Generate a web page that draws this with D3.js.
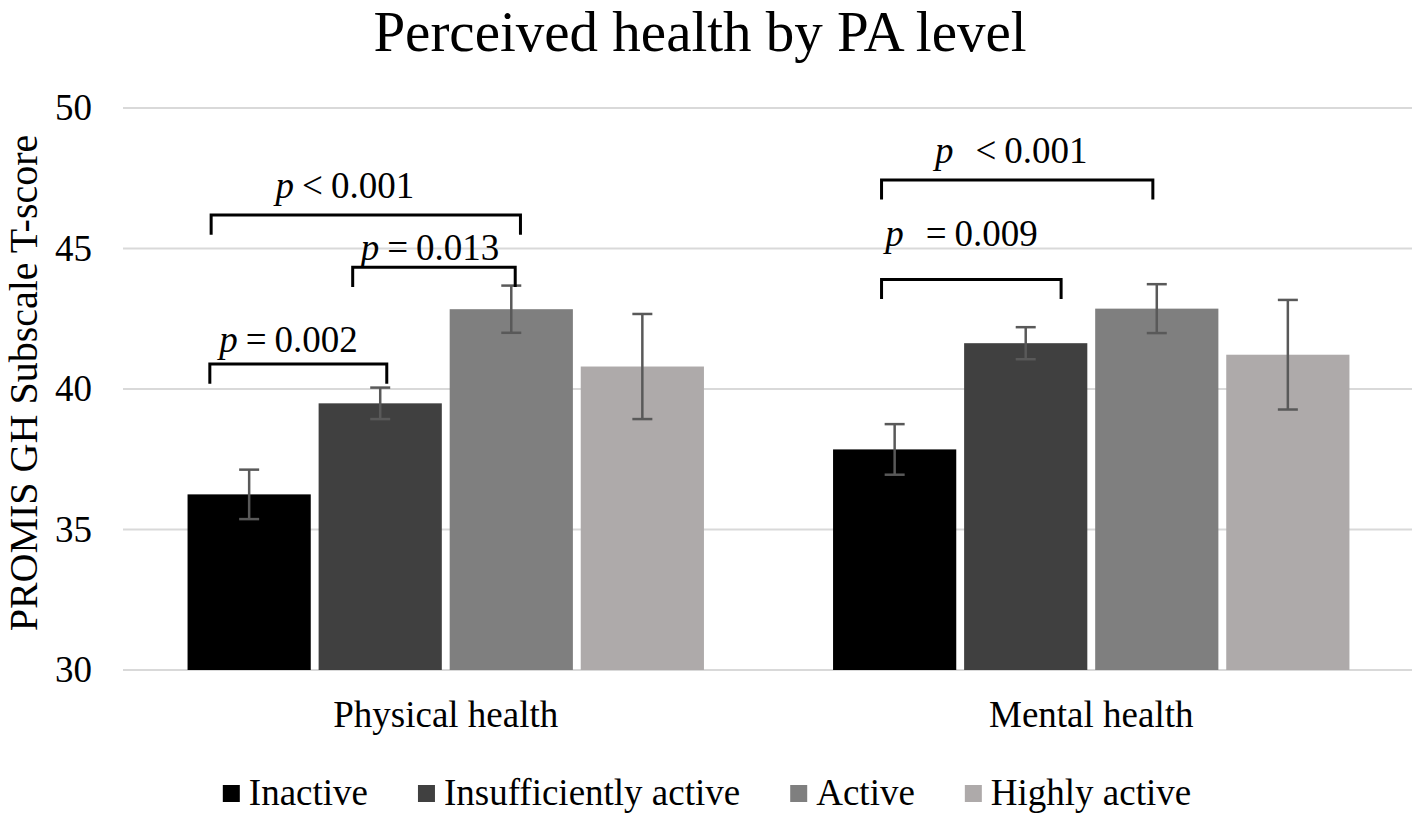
<!DOCTYPE html>
<html>
<head>
<meta charset="utf-8">
<script src="https://cdn.jsdelivr.net/npm/d3@7"></script>
<style>
  html, body { margin: 0; padding: 0; background: #fff; }
  svg { display: block; font-family: "Liberation Serif", "Times New Roman", serif; }
</style>
</head>
<body>
<svg id="chart"></svg>
<script>
// chart size
const width = 1417;
const height = 816;

// data
const categories = ["Physical health", "Mental health"];
const levels = ["Inactive", "Insufficiently active", "Active", "Highly active"];
const levelColors = ["#000000", "#404040", "#7f7f7f", "#aeaaaa"];
const physicalMeans = [36.25, 39.49, 42.84, 40.8];
const physicalErr = [0.88, 0.56, 0.84, 1.87];
const mentalMeans = [37.85, 41.63, 42.86, 41.22];
const mentalErr = [0.9, 0.57, 0.87, 1.95];
const yTicks = [30, 35, 40, 45, 50];

// significance brackets: group, from / to in bar slots, bar height (T-score)
const bracketGroup = [0, 0, 0, 1, 1];
const bracketFrom = [0.18, 1.26, 0.17, 0.37, 0.37];
const bracketTo = [2.54, 2.5, 1.52, 2.44, 1.74];
const bracketY = [46.19, 44.33, 40.89, 47.44, 43.9];
const bracketOp = ["<", "=", "=", "<", "="];
const bracketP = ["0.001", "0.013", "0.002", "0.001", "0.009"];
const labelSlot = [1.2, 1.85, 0.77, 1.36, 0.98];
const labelY = [46.8, 44.59, 41.33, 48.04, 45.09];

const means = [physicalMeans, mentalMeans];
const errs = [physicalErr, mentalErr];

const svg = d3.select("#chart").attr("width", width).attr("height", height);

// scales
const x0 = d3.scaleBand().domain(categories).range([123, 1414])
  .paddingInner(0.2).paddingOuter(0.1);
const x1 = d3.scaleBand().domain(levels).range([0, x0.bandwidth()])
  .paddingInner(0.06);
const slot = d3.scaleLinear().domain([0, levels.length])
  .range([0, x1.step() * levels.length]);
const y = d3.scaleLinear().domain([30, 50]).range([670, 108]);

// title
svg.append("text")
  .attr("x", 700).attr("y", 51)
  .attr("text-anchor", "middle")
  .style("font-size", "57px")
  .text("Perceived health by PA level");

// gridlines
svg.append("g")
  .selectAll("line")
  .data(yTicks)
  .join("line")
  .attr("x1", 123).attr("x2", 1412)
  .attr("y1", (d) => y(d)).attr("y2", (d) => y(d))
  .attr("stroke", "#d9d9d9")
  .attr("stroke-width", 2);

// y axis (labels only)
const yAxis = svg.append("g")
  .attr("transform", "translate(92,0)")
  .call(d3.axisLeft(y).tickValues(yTicks).tickSize(0).tickPadding(0));
yAxis.select(".domain").remove();
yAxis.selectAll("text")
  .style("font-family", "Liberation Serif, serif")
  .style("font-size", "37px")
  .attr("fill", "#000");

svg.append("text")
  .attr("transform", "translate(37,383) rotate(-90)")
  .attr("text-anchor", "middle")
  .style("font-size", "40px")
  .text("PROMIS GH Subscale T-score");

// bars
const groups = svg.append("g")
  .selectAll("g")
  .data(categories)
  .join("g")
  .attr("transform", (d) => `translate(${x0(d)},0)`);

groups.selectAll("rect")
  .data((d, i) => levels.map((l, j) => ({ level: l, value: means[i][j], err: errs[i][j], c: levelColors[j] })))
  .join("rect")
  .attr("x", (d) => x1(d.level))
  .attr("width", x1.bandwidth())
  .attr("y", (d) => y(d.value))
  .attr("height", (d) => y(30) - y(d.value))
  .attr("fill", (d) => d.c);

// error bars
const errG = groups.selectAll("g.err")
  .data((d, i) => levels.map((l, j) => ({ level: l, value: means[i][j], err: errs[i][j] })))
  .join("g")
  .attr("class", "err")
  .attr("stroke", "#595959")
  .attr("stroke-width", 2.5);
errG.append("line")
  .attr("x1", (d) => x1(d.level) + x1.bandwidth() / 2)
  .attr("x2", (d) => x1(d.level) + x1.bandwidth() / 2)
  .attr("y1", (d) => y(d.value + d.err))
  .attr("y2", (d) => y(d.value - d.err));
errG.selectAll("line.cap")
  .data((d) => [d.value + d.err, d.value - d.err].map((v) => ({ v: v, level: d.level })))
  .join("line")
  .attr("class", "cap")
  .attr("x1", (d) => x1(d.level) + x1.bandwidth() / 2 - 10)
  .attr("x2", (d) => x1(d.level) + x1.bandwidth() / 2 + 10)
  .attr("y1", (d) => y(d.v))
  .attr("y2", (d) => y(d.v));

// category labels
svg.append("g")
  .selectAll("text")
  .data(categories)
  .join("text")
  .attr("x", (d) => x0(d) + x0.bandwidth() / 2)
  .attr("y", 727)
  .attr("text-anchor", "middle")
  .style("font-size", "37px")
  .text((d) => d);

// significance brackets
const tickLen = 0.7;
const br = svg.append("g")
  .selectAll("g")
  .data(bracketY.map((v, i) => i))
  .join("g");
br.append("path")
  .attr("fill", "none")
  .attr("stroke", "#000")
  .attr("stroke-width", 3)
  .attr("d", (i) => {
    const gx = x0(categories[bracketGroup[i]]);
    const a = gx + slot(bracketFrom[i]);
    const b = gx + slot(bracketTo[i]);
    return `M${a},${y(bracketY[i] - tickLen)}V${y(bracketY[i])}H${b}V${y(bracketY[i] - tickLen)}`;
  });
const lbl = br.append("text")
  .attr("x", (i) => x0(categories[bracketGroup[i]]) + slot(labelSlot[i]))
  .attr("y", (i) => y(labelY[i]))
  .attr("text-anchor", "middle")
  .style("font-size", "37px");
lbl.append("tspan")
  .style("font-style", "italic")
  .text("p");
lbl.append("tspan")
  .attr("dx", (i) => (bracketGroup[i] === 1 ? 22 : 8))
  .text((i) => bracketOp[i]);
lbl.append("tspan")
  .attr("dx", 8)
  .text((i) => bracketP[i]);

// legend
const legend = svg.append("g");
const items = legend.selectAll("g")
  .data(levels)
  .join("g");
items.append("rect")
  .attr("width", 17).attr("height", 17)
  .attr("y", 785)
  .attr("fill", (d, i) => levelColors[i]);
items.append("text")
  .attr("x", 26)
  .attr("y", 805)
  .style("font-size", "37px")
  .text((d) => d);
const widths = [];
items.each(function () {
  widths.push(d3.select(this).select("text").node().getComputedTextLength() + 26);
});
const gap = 50;
const total = d3.sum(widths) + gap * (widths.length - 1);
let offset = 707 - total / 2;
items.attr("transform", (d, i) => {
  const t = `translate(${offset},0)`;
  offset += widths[i] + gap;
  return t;
});
</script>
</body>
</html>
